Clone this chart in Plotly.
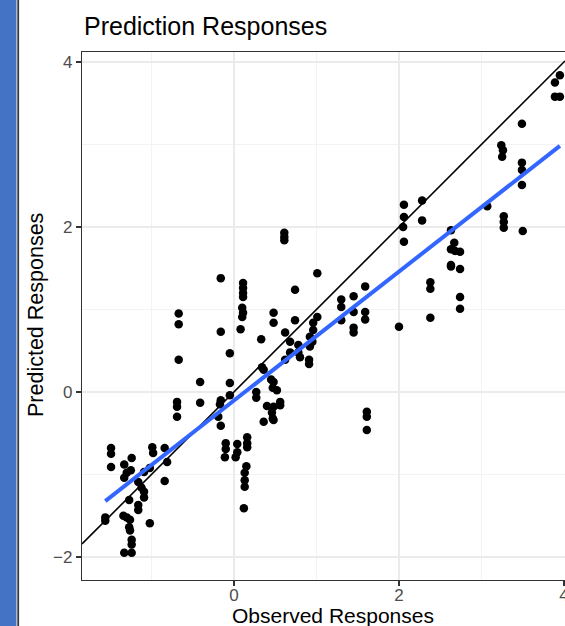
import numpy as np
import plotly.graph_objects as go

# ---- data (observed vs predicted responses) ----
observed = [
    -1.56, -1.56, -1.49, -1.49, -1.49, -1.33, -1.30, -1.33, -1.24, -1.25,
    -1.16, -1.12, -1.09, -1.09, -1.16, -1.16, -1.27, -1.30, -1.34, -1.26,
    -1.27, -1.26, -1.24, -1.24, -1.33, -1.24, -1.02, -0.99, -0.98, -0.84,
    -0.81, -0.84, -1.09, -1.02, -0.69, -0.69, -0.69, -0.67, -0.67, -0.67,
    -0.41, -0.41,
    -0.16, -0.16, -0.16, -0.17, -0.19, -0.16, -0.05, -0.05, -0.05, -0.10,
    -0.10, -0.11, 0.04, 0.04, 0.02, 0.16, 0.16, 0.16, 0.15, 0.13,
    0.13, 0.13, 0.12, 0.11, 0.11, 0.11, 0.11, 0.10, 0.11, 0.10,
    0.08, 0.27, 0.27, 0.33, 0.34, 0.36, 0.40, 0.36, 0.46, 0.47,
    0.48, 0.48, 0.48, 0.47, 0.52, 0.45, 0.56, 0.56, 0.48, 0.48,
    0.61, 0.61, 0.61, 0.62, 0.62, 0.68, 0.68, 0.74, 0.74, 0.78,
    0.78, 0.80, 0.92, 0.95, 0.92, 0.96, 0.96, 1.01, 0.91, 0.91,
    1.01, 1.30, 1.30, 1.30, 1.45, 1.45, 1.45, 1.45, 1.59, 1.59,
    1.59, 1.61, 1.61, 1.61, 2.00,
    2.05, 2.06, 2.06, 2.06, 2.28, 2.28, 2.38, 2.38, 2.38, 2.63,
    2.67, 2.63, 2.68, 2.74, 2.63, 2.63, 2.74, 2.74, 2.74, 3.07,
    3.27, 3.27, 3.27, 3.24, 3.26, 3.25, 3.49, 3.49, 3.49, 3.49,
    3.50, 3.95, 3.89, 3.89, 3.95,
]
predicted = [
    -1.52, -1.56, -0.68, -0.75, -0.91, -0.88, -0.98, -1.04, -0.80, -0.95,
    -1.09, -1.16, -1.21, -1.28, -1.37, -1.43, -1.31, -1.52, -1.50, -1.55,
    -1.64, -1.68, -1.79, -1.85, -1.95, -1.95, -1.59, -0.67, -0.74, -0.68,
    -0.85, -1.08, -0.97, -0.92, -0.12, -0.18, -0.30, 0.95, 0.82, 0.39,
    0.12, -0.13,
    1.38, 0.73, -0.10, -0.15, -0.30, -0.41, 0.47, 0.11, -0.04, -0.62,
    -0.69, -0.79, -0.63, -0.73, -0.79, -0.55, -0.62, -0.67, -0.90, -0.98,
    -1.07, -1.15, -1.41, 1.32, 1.26, 1.20, 1.15, 1.02, 0.96, 0.91,
    0.76, 0.00, -0.07, 0.64, 0.30, 0.27, -0.17, -0.36, -0.25, -0.32,
    0.96, 0.84, 0.12, 0.05, 0.02, 0.15, -0.12, -0.16, -0.18, -0.34,
    1.93, 1.88, 1.84, 0.72, 0.39, 0.61, 0.48, 1.24, 0.87, 0.57,
    0.48, 0.42, 0.67, 0.61, 0.55, 0.75, 0.84, 0.91, 0.39, 0.34,
    1.44, 1.12, 1.03, 0.87, 1.16, 0.97, 0.78, 0.72, 1.28, 0.97,
    0.88, -0.24, -0.30, -0.46, 0.79,
    2.00, 1.82, 2.27, 2.12, 2.32, 2.08, 1.33, 1.25, 0.90, 1.96,
    1.81, 1.73, 1.71, 1.70, 1.54, 1.52, 1.49, 1.15, 1.01, 2.25,
    2.13, 2.06, 1.99, 2.99, 2.93, 2.85, 3.25, 2.78, 2.69, 2.51,
    1.95, 3.84, 3.75, 3.58, 3.58,
]

x_tick_vals = [0, 2, 4]
y_tick_vals = [-2, 0, 2, 4]
x_range = [-1.842, 4.012]
y_range = [-2.279, 4.121]
abline_slope = 1.0
abline_intercept = 0.0

title_text = "Prediction Responses"
x_title = "Observed Responses"
y_title = "Predicted Responses"

# ---- derived: linear fit (geom_smooth method = lm) ----
obs = np.array(observed)
pred = np.array(predicted)
slope, intercept = np.polyfit(obs, pred, 1)
fit_x = np.array([obs.min(), obs.max()])
fit_y = intercept + slope * fit_x

ab_x = np.array(x_range)
ab_y = abline_intercept + abline_slope * ab_x

FONT = "Liberation Sans, Arial, sans-serif"

fig = go.Figure()
fig.add_trace(go.Scatter(
    x=observed, y=predicted, mode="markers",
    marker=dict(color="black", size=8.5),
    showlegend=False, hoverinfo="skip"))
fig.add_trace(go.Scatter(
    x=ab_x, y=ab_y, mode="lines",
    line=dict(color="black", width=1.6),
    showlegend=False, hoverinfo="skip"))
fig.add_trace(go.Scatter(
    x=fit_x, y=fit_y, mode="lines",
    line=dict(color="#3366FF", width=4),
    showlegend=False, hoverinfo="skip"))

W, H = 565, 626
ML, MR, MT, MB = 82, 0, 52, 46
pw = W - ML - MR
ph = H - MT - MB


def px(p):
    return (p - ML) / pw


def py(p):
    return (H - MB - p) / ph


axis_common = dict(
    showline=True, linecolor="#333333", linewidth=1.4,
    ticks="outside", ticklen=5, tickwidth=1.5, tickcolor="#333333",
    tickfont=dict(family=FONT, size=17, color="#4D4D4D"),
    showgrid=True, gridcolor="#EBEBEB", gridwidth=2.2,
    zeroline=False, ticklabeloverflow="allow", automargin=False,
    minor=dict(showgrid=True, gridcolor="#F3F3F3", gridwidth=1.1, dtick=1, tick0=0),
)

fig.update_layout(
    width=W, height=H,
    margin=dict(l=ML, r=MR, t=MT, b=MB, pad=0, autoexpand=False),
    paper_bgcolor="white", plot_bgcolor="white",
    font=dict(family=FONT),
    xaxis=dict(range=x_range, tickvals=x_tick_vals, mirror=True,
               ticklabelstandoff=-6, **axis_common),
    yaxis=dict(range=y_range, tickvals=y_tick_vals, mirror=False, **axis_common),
    shapes=[
        dict(type="rect", xref="paper", yref="paper",
             x0=px(-2), x1=px(16.5), y0=py(H + 5), y1=py(-5),
             fillcolor="#4472C4", line=dict(width=0), layer="above"),
        dict(type="line", xref="paper", yref="paper",
             x0=px(18.2), x1=px(18.2), y0=py(H + 5), y1=py(-5),
             line=dict(color="#3A3A3A", width=1.8), layer="above"),
    ],
    annotations=[
        dict(text=title_text, xref="paper", yref="paper",
             x=px(82), y=py(26), xanchor="left", yanchor="middle",
             showarrow=False, font=dict(family=FONT, size=25, color="black")),
        dict(text=x_title, xref="paper", yref="paper",
             x=px(333), y=py(615), xanchor="center", yanchor="middle",
             showarrow=False, font=dict(family=FONT, size=21, color="black")),
        dict(text=y_title, xref="paper", yref="paper", textangle=-90,
             x=px(36), y=py(315), xanchor="center", yanchor="middle",
             showarrow=False, font=dict(family=FONT, size=21.5, color="black")),
    ],
)

fig.write_html(
    "out.html",
    config={"displayModeBar": False},
    post_script="document.documentElement.style.margin='0';"
                "document.body.style.margin='0';"
                "document.body.style.padding='0';"
                "document.body.style.overflow='hidden';"
                "document.documentElement.style.overflow='hidden';",
)
